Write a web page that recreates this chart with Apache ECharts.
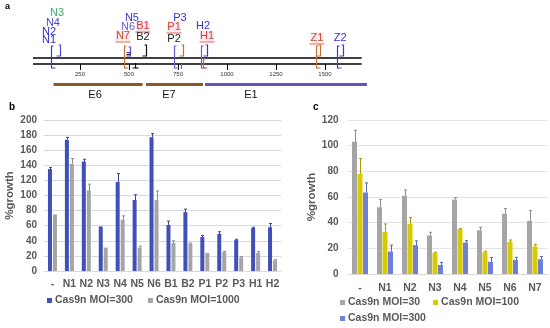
<!DOCTYPE html>
<html><head><meta charset="utf-8">
<script src="https://cdn.jsdelivr.net/npm/echarts@6/dist/echarts.min.js"></script>
<style>html,body{margin:0;padding:0;background:#fff}#c{width:550px;height:328px}</style>
</head><body><div id="c"></div>
<script>
// ---------- Panel a data (positions in bp) ----------
const strandSpan = [10, 1687];
const exonNames = ['E6', 'E7', 'E1'];
const exonStart = [115, 587, 888];
const exonEnd = [569, 878, 1714];
const exonLabelPos = [327, 704, 1122];
const mapTicks = [250, 500, 750, 1000, 1250, 1500];
const guideNames = ['N3','N4','N2','N1','N5','N6','B1','N7','B2','P3','P1','P2','H2','H1','Z1','Z2'];
const guideLabelPos = [133,112,92,92,515,495,571,469,571,760,730,730,878,898,1459,1577];
const markPos = [100,148,476,507,531,587,730,774,765,865,878,898,1452,1474,1560,1592];
const markType = ['fwd','rev','fwd','rev3','short','rev','fwd','rev','tick','fwd','fwdS','rev','fwd','rev','fwd','rev'];

// ---------- Panel b data ----------
const bCategories = ['-','N1','N2','N3','N4','N5','N6','B1','B2','P1','P2','P3','H1','H2'];
const bMoi300 = [135,174,145,59,118,94,177,61,78,45,49,41,57,58];
const bMoi300Err = [2,3,3,0,11,7,5,5,4,2,3,1,1,5];
const bMoi1000 = [75,142,107,31,68,31,94,37,36,24,25,18,24,14];
const bMoi1000Err = [0,7,8,0,5,2,12,3,1,0,1,1,2,1];
const bTicks = [0,20,40,60,80,100,120,140,160,180,200];

// ---------- Panel c data ----------
const cCategories = ['-','N1','N2','N3','N4','N5','N6','N7'];
const cMoi30 = [103,52,61,30,58,34,47,41.5];
const cMoi30Err = [9,6,4.5,2.5,1.5,2.5,4,8];
const cMoi100 = [78,33,39,16.5,35,17,25,21.5];
const cMoi100Err = [12,6,5,0.5,0.5,0.7,1.5,1.6];
const cMoi300 = [63.5,17.5,22.5,7,24.5,9.5,11,11.5];
const cMoi300Err = [7.5,5,3.3,2,1.5,3.3,2,2.1];
const cTicks = [0,20,40,60,80,100,120];

// ---------- styles ----------
const FONT = 'Liberation Sans, Arial, sans-serif';
const TXT = '#595959';
const labelStyle = {
  N3:{y:13,c:'#3daa6e'}, N4:{y:23,c:'#4848c8'}, N2:{y:32,c:'#2e2ed0'}, N1:{y:40,c:'#2e2ed0'},
  N5:{y:18,c:'#3535d0'}, N6:{y:27,c:'#6a5acd'}, B1:{y:26,c:'#d83a3a',u:1}, N7:{y:36,c:'#c0502a',u:1},
  B2:{y:37,c:'#222222'}, P3:{y:18,c:'#3535d0'}, P1:{y:27,c:'#d83a3a',u:1}, P2:{y:39,c:'#222222'},
  H2:{y:26,c:'#3535d0'}, H1:{y:36,c:'#d83a3a',u:1}, Z1:{y:38,c:'#c0503a',u:1}, Z2:{y:38,c:'#3535d0'}
};
const markColors = ['#3a3ad0','#4a4ad8','#c8703a','#5a4ac8','#111111','#111111','#6a5acd','#c8703a',
  '#2a9a5a','#6a5acd','#c8703a','#3a3ad0','#c8703a','#c8703a','#3a3ad0','#3a3ad0'];

const chart = echarts.init(document.getElementById('c'), null, {renderer:'canvas'});

function errSeries(xi, vals, errs, offset, color) {
  return {
    type:'custom', xAxisIndex:xi, yAxisIndex:xi, silent:true, z:5,
    data: vals.map((v,i)=>[i, v, errs[i]]),
    renderItem: (params, api) => {
      const i = api.value(0), v = api.value(1), e = api.value(2);
      if (!e) return null;
      const p0 = api.coord([i, v]), p1 = api.coord([i, v + e]);
      const x = Math.round(p0[0] + offset) + 0.5;
      return {type:'group', children:[
        {type:'line', shape:{x1:x,y1:p0[1],x2:x,y2:p1[1]}, style:{stroke:color,lineWidth:1}},
        {type:'line', shape:{x1:x-1.5,y1:p1[1],x2:x+1.5,y2:p1[1]}, style:{stroke:color,lineWidth:1}}
      ]};
    }
  };
}

function poly(points, color) {
  return {type:'polyline', shape:{points}, style:{stroke:color, lineWidth:1.2, fill:null}};
}

const option = {
  animation:false,
  backgroundColor:'#fff',
  textStyle:{fontFamily:FONT},
  graphic:[
    {type:'text', left:5, top:2, style:{text:'a', font:'bold 9px '+FONT, fill:'#000'}},
    {type:'text', left:9, top:102, style:{text:'b', font:'bold 10px '+FONT, fill:'#000'}},
    {type:'text', left:313, top:102, style:{text:'c', font:'bold 10px '+FONT, fill:'#000'}}
  ],
  grid:[
    {left:31, top:0, width:343, height:64},
    {left:44, top:120, width:237, height:151},
    {left:347.5, top:120, width:200, height:154}
  ],
  legend:[
    {left:47, top:295, padding:0, itemWidth:5, itemHeight:5, itemGap:15, icon:'rect',
     textStyle:{fontFamily:FONT, fontWeight:'bold', fontSize:10.5, color:TXT, padding:[0,0,0,-2]},
     data:[{name:'Cas9n MOI=300', itemStyle:{color:'#4050b8'}}, {name:'Cas9n MOI=1000', itemStyle:{color:'#a5a5a5'}}]},
    {left:340, top:297, padding:0, itemWidth:5, itemHeight:5, itemGap:13, icon:'rect',
     textStyle:{fontFamily:FONT, fontWeight:'bold', fontSize:10.5, color:TXT, padding:[0,0,0,-2]},
     data:[{name:'Cas9n MOI=30', itemStyle:{color:'#a5a5a5'}}, {name:'Cas9n MOI=100', itemStyle:{color:'#d9c900'}}]},
    {left:340, top:313, padding:0, itemWidth:5, itemHeight:5, icon:'rect',
     textStyle:{fontFamily:FONT, fontWeight:'bold', fontSize:10.5, color:TXT, padding:[0,0,0,-2]},
     data:[{name:'Cas9n MOI=300', itemStyle:{color:'#6d7fd9'}}]}
  ],
  xAxis:[
    {gridIndex:0, type:'value', min:0, max:1750, position:'bottom',
     axisLine:{show:false, onZero:false}, splitLine:{show:false},
     axisTick:{show:true, length:6, customValues:mapTicks, lineStyle:{color:'#000'}},
     axisLabel:{show:true, customValues:mapTicks, fontSize:6, color:'#333', margin:7, formatter:v=>String(v)}},
    {gridIndex:1, type:'category', data:bCategories,
     axisLine:{lineStyle:{color:'#d9d9d9'}}, axisTick:{show:false},
     axisLabel:{fontWeight:'bold', fontSize:10.5, color:TXT, margin:8, interval:0}},
    {gridIndex:2, type:'category', data:cCategories,
     axisLine:{lineStyle:{color:'#d9d9d9'}}, axisTick:{show:false},
     axisLabel:{fontWeight:'bold', fontSize:10.5, color:TXT, margin:9, interval:0}}
  ],
  yAxis:[
    {gridIndex:0, type:'value', min:0, max:64, inverse:true, show:false},
    {gridIndex:1, type:'value', min:0, max:200, interval:20,
     name:'%growth', nameLocation:'middle', nameGap:28, nameRotate:90,
     nameTextStyle:{fontWeight:'bold', fontSize:11.5, color:TXT},
     axisLine:{show:false}, axisTick:{show:false},
     axisLabel:{fontWeight:'bold', fontSize:10, color:TXT, margin:7},
     splitLine:{lineStyle:{color:'#d9d9d9'}}},
    {gridIndex:2, type:'value', min:0, max:120, interval:20,
     name:'%growth', nameLocation:'middle', nameGap:29, nameRotate:90,
     nameTextStyle:{fontWeight:'bold', fontSize:11.5, color:TXT},
     axisLine:{show:false}, axisTick:{show:false},
     axisLabel:{fontWeight:'bold', fontSize:10, color:TXT, margin:9},
     splitLine:{lineStyle:{color:'#e3e3e3'}}}
  ],
  series:[
    // panel a: backbone (two strands)
    {type:'custom', xAxisIndex:0, yAxisIndex:0, clip:false, silent:true,
     data:[strandSpan],
     renderItem:(params, api) => {
       const a = api.coord([api.value(0), 58]), b = api.coord([api.value(1), 58]);
       return {type:'group', children:[
         {type:'line', shape:{x1:a[0],y1:58,x2:b[0],y2:58}, style:{stroke:'#000',lineWidth:1.4}},
         {type:'line', shape:{x1:a[0],y1:64,x2:b[0],y2:64}, style:{stroke:'#000',lineWidth:1.4}}
       ]};
     }},
    // exons
    {type:'custom', xAxisIndex:0, yAxisIndex:0, clip:false, silent:true,
     data: exonNames.map((n,i)=>[exonStart[i], exonEnd[i], exonLabelPos[i]]),
     renderItem:(params, api) => {
       const s = api.coord([api.value(0), 0])[0], e = api.coord([api.value(1), 0])[0];
       const l = api.coord([api.value(2), 0])[0];
       const col = params.dataIndex < 2 ? '#8a5a24' : '#6a52b5';
       return {type:'group', children:[
         {type:'rect', shape:{x:s, y:83, width:e-s, height:3}, style:{fill:col}},
         {type:'text', x:l, y:95, style:{text:exonNames[params.dataIndex], font:'11px '+FONT, fill:'#111', align:'center', verticalAlign:'middle'}}
       ]};
     }},
    // guide marks
    {type:'custom', xAxisIndex:0, yAxisIndex:0, clip:false, silent:true,
     data: markPos.map(p=>[p]),
     renderItem:(params, api) => {
       const x = Math.round(api.coord([api.value(0), 0])[0]) + 0.5;
       const t = markType[params.dataIndex], c = markColors[params.dataIndex];
       let ch = [];
       if (t === 'fwd') ch.push(poly([[x+2,46],[x,46],[x,68],[x+4,68]], c));
       else if (t === 'fwdS') ch.push(poly([[x+2,59],[x,59],[x,68],[x+4,68]], c));
       else if (t === 'rev') ch.push(poly([[x-2,45],[x,45],[x,56],[x-4,56]], c));
       else if (t === 'rev3') {
         ch.push(poly([[x-2,47],[x,47],[x,56],[x-4,56]], c));
         ch.push(poly([[x,52.5],[x-4,52.5]], '#3535d0'));
         ch.push(poly([[x,54.5],[x-4,54.5]], '#222'));
       }
       else if (t === 'short') ch.push(poly([[x,63],[x,68],[x-3,68]], c), poly([[x,68],[x+3,68]], c));
       else if (t === 'tick') ch.push(poly([[x,64],[x,69]], c));
       return {type:'group', children:ch};
     }},
    // guide labels
    {type:'custom', xAxisIndex:0, yAxisIndex:0, clip:false, silent:true,
     data: guideLabelPos.map(p=>[p]),
     renderItem:(params, api) => {
       const name = guideNames[params.dataIndex], st = labelStyle[name];
       const x = api.coord([api.value(0), 0])[0];
       const ch = [{type:'text', x:x, y:st.y, style:{text:name, font:'11px '+FONT, fill:st.c, align:'center', verticalAlign:'middle',
         backgroundColor: st.u ? '#fde6ec' : null}}];
       if (st.u) ch.push({type:'line', shape:{x1:x-7.5,y1:st.y+6,x2:x+7.5,y2:st.y+6}, style:{stroke:st.c,lineWidth:0.8}});
       return {type:'group', children:ch};
     }},
    // panel b bars
    {name:'Cas9n MOI=300', type:'bar', xAxisIndex:1, yAxisIndex:1, data:bMoi300, barWidth:4, barGap:'25%', itemStyle:{color:'#4050b8'}},
    {name:'Cas9n MOI=1000', type:'bar', xAxisIndex:1, yAxisIndex:1, data:bMoi1000, barWidth:4, barGap:'25%', itemStyle:{color:'#a5a5a5'}},
    errSeries(1, bMoi300, bMoi300Err, -2.5, '#3a4494'),
    errSeries(1, bMoi1000, bMoi1000Err, 2.5, '#8c8c8c'),
    // panel c bars
    {name:'Cas9n MOI=30', type:'bar', xAxisIndex:2, yAxisIndex:2, data:cMoi30, barWidth:5, barGap:'10%', itemStyle:{color:'#a5a5a5'}},
    {name:'Cas9n MOI=100', type:'bar', xAxisIndex:2, yAxisIndex:2, data:cMoi100, barWidth:5, barGap:'10%', itemStyle:{color:'#d9c900'}},
    {name:'Cas9n MOI=300', type:'bar', xAxisIndex:2, yAxisIndex:2, data:cMoi300, barWidth:5, barGap:'10%', itemStyle:{color:'#6d7fd9'}},
    errSeries(2, cMoi30, cMoi30Err, -5.5, '#8c8c8c'),
    errSeries(2, cMoi100, cMoi100Err, 0, '#a89c00'),
    errSeries(2, cMoi300, cMoi300Err, 5.5, '#5566bb')
  ]
};
chart.setOption(option);
</script>
</body></html>
